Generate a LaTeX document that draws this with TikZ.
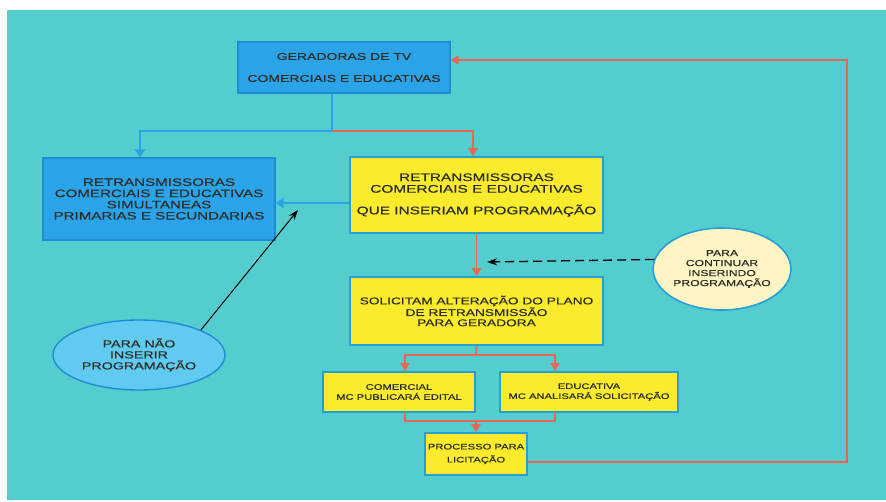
\documentclass[tikz,border=0pt]{standalone}
\usepackage{fontspec}
\usetikzlibrary{arrows.meta,shapes.geometric,calc}
\newfontfamily\widesans{Liberation Sans}[FakeStretch=1.4,FakeBold=0.4]

\definecolor{bgcyan}{RGB}{84,205,206}
\definecolor{boxblue}{RGB}{42,163,232}
\definecolor{boxblueedge}{RGB}{30,140,212}
\definecolor{boxyellow}{RGB}{250,236,45}
\definecolor{yedge}{RGB}{38,160,212}
\definecolor{paleyellow}{RGB}{255,245,196}
\definecolor{lightblue}{RGB}{96,202,240}
\definecolor{linered}{RGB}{232,102,82}
\definecolor{inkdark}{RGB}{45,45,40}

\tikzset{
  bluebox/.style={rectangle, draw=boxblueedge, line width=1.2pt, fill=boxblue,
    inner sep=0pt, align=center, text=inkdark},
  yellowbox/.style={rectangle, draw=yedge, line width=1.6pt, fill=boxyellow,
    inner sep=0pt, align=center, text=inkdark},
  paleoval/.style={ellipse, draw=yedge, line width=1.6pt, fill=paleyellow,
    inner sep=0pt, align=center, text=inkdark},
  blueoval/.style={ellipse, draw=boxblueedge, line width=1.4pt, fill=lightblue,
    inner sep=0pt, align=center, text=inkdark},
  redline/.style={draw=linered, line width=1.8pt},
  blueline/.style={draw=boxblue, line width=2.6pt},
  redtip/.style={-{Triangle[width=9pt,length=8pt]}},
  bluetip/.style={-{Triangle[width=10pt,length=8pt]}},
  blacktip/.style={-{Stealth[width=7pt,length=10pt]}},
  txt/.style 2 args={font={\widesans\fontsize{#1}{#2}\selectfont}}
}

\begin{document}
\begin{tikzpicture}[x=1pt,y=-1pt]
  % canvas and backdrop
  \useasboundingbox (0,0) rectangle (886,502);
  \fill[white] (0,0) rectangle (886,502);
  \fill[bgcyan] (7,10) rectangle (886,500);

  % boxes
  \node[bluebox, minimum width=212, minimum height=51, txt={10}{22}]
    (ger) at (344,67.5) {GERADORAS DE TV\\COMERCIAIS E EDUCATIVAS};
  \node[bluebox, minimum width=232, minimum height=82, txt={10.8}{11.2}]
    (left) at (159,199) {RETRANSMISSORAS\\COMERCIAIS E EDUCATIVAS\\SIMULTANEAS\\PRIMARIAS E SECUNDARIAS};
  \node[yellowbox, minimum width=253, minimum height=76, txt={11}{11.6}]
    (ya) at (476.5,195) {RETRANSMISSORAS\\COMERCIAIS E EDUCATIVAS\\[10pt]QUE INSERIAM PROGRAMAÇÃO};
  \node[yellowbox, minimum width=253, minimum height=68, txt={9.8}{10.2}]
    (yb) at (476.5,311) {SOLICITAM ALTERAÇÃO DO PLANO\\DE RETRANSMISSÃO\\PARA GERADORA};
  \node[yellowbox, minimum width=152, minimum height=40, txt={8}{10}]
    (com) at (399,392) {COMERCIAL\\MC PUBLICARÁ EDITAL};
  \node[yellowbox, minimum width=178, minimum height=40, txt={8}{10}]
    (edu) at (589,392) {EDUCATIVA\\MC ANALISARÁ SOLICITAÇÃO};
  \node[yellowbox, minimum width=102, minimum height=42, txt={8}{13}]
    (proc) at (476,454) {PROCESSO PARA\\LICITAÇÃO};

  % ovals
  \node[paleoval, minimum width=120, minimum height=82, txt={8.7}{10}]
    (eR) at (722,269) {PARA\\CONTINUAR\\INSERINDO\\PROGRAMAÇÃO};
  \node[blueoval, minimum width=172, minimum height=70, txt={10.2}{11}]
    (eL) at (139,355) {PARA NÃO\\INSERIR\\PROGRAMAÇÃO};

  % junction points
  \coordinate (j1) at (332,131);
  \coordinate (s1) at (476,355);
  \coordinate (m1) at (476,421);
  \coordinate (r1) at (847,60);
  \coordinate (ba) at (298,210);
  \coordinate (da) at (487,262);

  % from the generators down to both groups
  \draw[blueline] (j1 |- ger.south) -- (j1);
  \draw[blueline, bluetip] (j1) -| ([xshift=-19pt]left.north);
  \draw[redline, redtip] (j1) -| ([xshift=-3.5pt]ya.north);

  % between the two groups
  \draw[blueline, bluetip] ([yshift=-8pt]ya.west) -- ([yshift=-4pt]left.east);
  \draw[black, line width=1pt, blacktip] (eL.22) -- (ba);

  % request chain
  \draw[redline, redtip] (ya.south) -- (yb.north);
  \draw[black, line width=1.3pt, dashed, dash pattern=on 9pt off 5pt, blacktip]
    (eR.172) -- (da);
  \draw[redline] (yb.south) -- (s1);
  \draw[redline, redtip] (s1) -| ([xshift=6pt]com.north);
  \draw[redline, redtip] (s1) -| ([xshift=-34pt]edu.north);
  \draw[redline] ([xshift=6pt]com.south) |- (m1) -| ([xshift=-34pt]edu.south);
  \draw[redline, redtip] (m1) -- (proc.north);

  % return loop to the generators
  \draw[redline, redtip] ([yshift=-8pt]proc.east) -| (r1) -- (ger.east |- r1);
\end{tikzpicture}
\end{document}
